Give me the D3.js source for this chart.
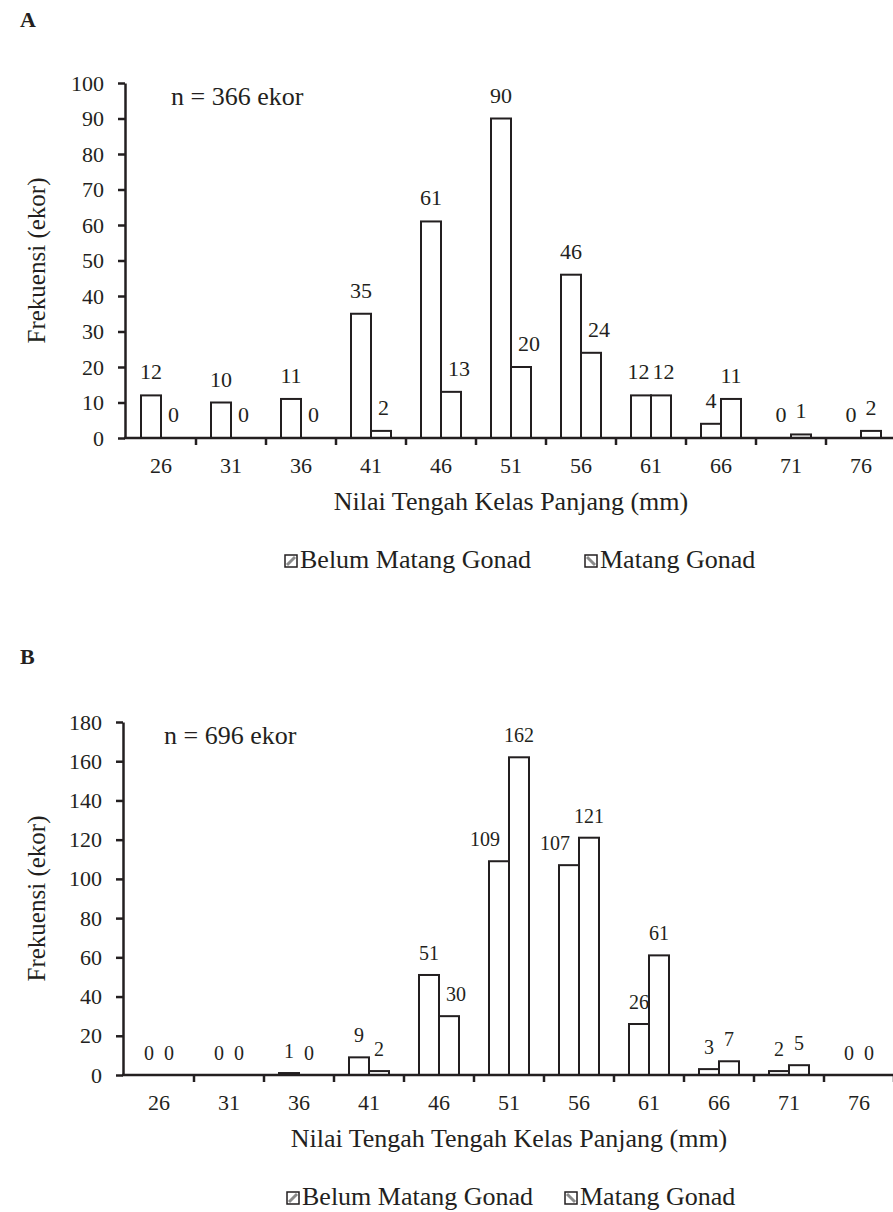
<!DOCTYPE html>
<html>
<head>
<meta charset="utf-8">
<style>
body { margin: 0; background: #fff; }
text { font-family: "Liberation Serif", "Times New Roman", serif; fill: #231f20; }
</style>
</head>
<body>
<div id="chart"></div>
<script src="https://d3js.org/d3.v7.min.js"></script>
<script>
// nilai tengah kelas panjang (mm)
var categories = [26, 31, 36, 41, 46, 51, 56, 61, 66, 71, 76];
var seriesNames = ["Belum Matang Gonad", "Matang Gonad"];

// panel A
var belumA  = [12, 10, 11, 35, 61, 90, 46, 12, 4, 0, 0];
var matangA = [0, 0, 0, 2, 13, 20, 24, 12, 11, 1, 2];
var yTicksA = [0, 10, 20, 30, 40, 50, 60, 70, 80, 90, 100];

// panel B
var belumB  = [0, 0, 1, 9, 51, 109, 107, 26, 3, 2, 0];
var matangB = [0, 0, 0, 2, 30, 162, 121, 61, 7, 5, 0];
var yTicksB = [0, 20, 40, 60, 80, 100, 120, 140, 160, 180];

var ink = "#231f20";

var panels = [
  { letter: "A", n: "n = 366 ekor", xTitle: "Nilai Tengah Kelas Panjang (mm)",
    belum: belumA, matang: matangA, yTicks: yTicksA,
    left: 126, top: 83, bottom: 438, labelSize: 22, labelGap: 16, legendX: [285, 585] },
  { letter: "B", n: "n = 696 ekor", xTitle: "Nilai Tengah Tengah Kelas Panjang (mm)",
    belum: belumB, matang: matangB, yTicks: yTicksB,
    left: 124, top: 722, bottom: 1075, labelSize: 20, labelGap: 15, legendX: [287, 565] }
];

var svg = d3.select("#chart").append("svg")
  .attr("width", 893)
  .attr("height", 1212);

panels.forEach(function(p) {
  var g = svg.append("g");
  var off = p.bottom - 438; // vertical offset of this panel

  var x = d3.scaleBand()
    .domain(categories)
    .range([p.left, p.left + 770])
    .paddingInner(3 / 7)
    .paddingOuter(3 / 14);
  var x1 = d3.scaleBand().domain([0, 1]).range([0, x.bandwidth()]);
  var y = d3.scaleLinear()
    .domain([0, d3.max(p.yTicks)])
    .range([p.bottom, p.top]);

  // panel letter
  g.append("text").attr("x", 20).attr("y", 27 + off)
    .style("font-size", "22px").style("font-weight", "bold").text(p.letter);

  // bars
  var series = [p.belum, p.matang];
  series.forEach(function(vals, s) {
    g.selectAll(".bar" + s)
      .data(vals)
      .enter().append("rect")
      .attr("x", function(d, i) { return x(categories[i]) + x1(s); })
      .attr("y", function(d) { return y(d); })
      .attr("width", x1.bandwidth())
      .attr("height", function(d) { return p.bottom - y(d); })
      .style("fill", "#fff")
      .style("stroke", ink)
      .style("stroke-width", 2);
  });

  // y axis
  var ya = g.append("g")
    .attr("transform", "translate(" + (p.left - 1) + ",0)")
    .call(d3.axisLeft(y).tickValues(p.yTicks).tickSize(7).tickSizeOuter(0).tickPadding(14));
  ya.select(".domain").style("stroke", ink).style("stroke-width", 2.5);
  ya.selectAll(".tick line").style("stroke", ink).style("stroke-width", 2.5);
  ya.selectAll(".tick text").style("font-size", "22px").style("font-family", null).attr("fill", ink);

  // x axis: labels at centres, ticks at class boundaries
  var xa = g.append("g")
    .attr("transform", "translate(0," + p.bottom + ")")
    .call(d3.axisBottom(x).tickSize(0).tickPadding(19));
  xa.select(".domain").remove();
  xa.selectAll(".tick text").style("font-size", "22px").style("font-family", null).attr("fill", ink);
  g.append("line")
    .attr("x1", p.left - 2).attr("x2", 893)
    .attr("y1", p.bottom).attr("y2", p.bottom)
    .style("stroke", ink).style("stroke-width", 2.5);
  g.selectAll(".btick")
    .data(categories)
    .enter().append("line")
    .attr("x1", function(d) { return x(d) - x.step() * 3 / 14 + x.step(); })
    .attr("x2", function(d) { return x(d) - x.step() * 3 / 14 + x.step(); })
    .attr("y1", p.bottom).attr("y2", p.bottom + 7)
    .style("stroke", ink).style("stroke-width", 2.5);

  // data labels
  categories.forEach(function(c, i) {
    var vals = [p.belum[i], p.matang[i]];
    var mid = x(c) + x1.bandwidth();
    var base = vals.map(function(v) { return y(v) - p.labelGap; });
    var t = vals.map(function(v, s) {
      return g.append("text")
        .attr("x", x(c) + x1(s) + x1.bandwidth() / 2)
        .attr("y", base[s])
        .attr("text-anchor", "middle")
        .style("font-size", p.labelSize + "px")
        .text(v);
    });
    var w = t.map(function(el) { return el.node().getComputedTextLength(); });
    var cx = [mid - x1.bandwidth() / 2, mid + x1.bandwidth() / 2];
    var movedL = false, movedR = false;
    if (y(vals[1]) < base[0] && cx[0] + w[0] / 2 > mid + 2) {
      t[0].attr("text-anchor", "end").attr("x", mid - 9); movedL = true;
    }
    if (y(vals[0]) < base[1] && cx[1] - w[1] / 2 < mid + 6) {
      t[1].attr("text-anchor", "start").attr("x", mid + 7); movedR = true;
    }
    if (!movedL && !movedR && Math.abs(base[0] - base[1]) < p.labelSize * 0.7) {
      var over = (cx[0] + w[0] / 2 + 3) - (cx[1] - w[1] / 2);
      if (over > 0) {
        t[0].attr("x", cx[0] - over / 2);
        t[1].attr("x", cx[1] + over / 2);
      }
    }
  });

  // n text
  g.append("text").attr("x", p.letter === "A" ? 171 : 164).attr("y", p.top + 22)
    .style("font-size", "26px").text(p.n);

  // axis titles
  g.append("text")
    .attr("transform", "translate(45," + (p.top + p.bottom) / 2 + ") rotate(-90)")
    .attr("text-anchor", "middle")
    .style("font-size", "25px")
    .text("Frekuensi (ekor)");
  g.append("text")
    .attr("x", p.left + 385).attr("y", p.bottom + 72)
    .attr("text-anchor", "middle")
    .style("font-size", "26px")
    .text(p.xTitle);

  // legend
  var ly = p.bottom + 130;
  seriesNames.forEach(function(name, s) {
    var lx = p.legendX[s];
    g.append("rect")
      .attr("x", lx).attr("y", ly - 13).attr("width", 12).attr("height", 12)
      .style("fill", "#fff").style("stroke", ink).style("stroke-width", 1.5);
    g.append("line")
      .attr("x1", lx + 2).attr("x2", lx + 10)
      .attr("y1", s === 0 ? ly - 3 : ly - 11).attr("y2", s === 0 ? ly - 11 : ly - 3)
      .style("stroke", "#8a8a8a").style("stroke-width", 3);
    g.append("text").attr("x", lx + 15).attr("y", ly)
      .style("font-size", "26px").text(name);
  });
});
</script>
</body>
</html>
